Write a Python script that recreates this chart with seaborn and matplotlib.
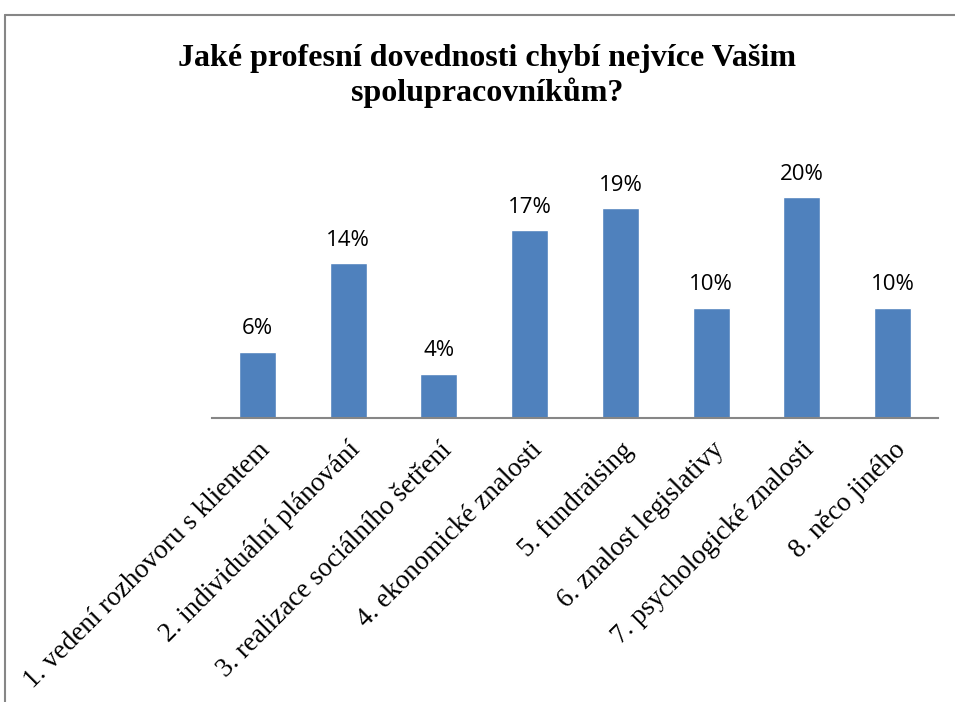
import matplotlib
matplotlib.use("Agg")
import matplotlib.pyplot as plt
import seaborn as sns
import pandas as pd
from matplotlib.lines import Line2D

categories = [
    "1. vedení rozhovoru s klientem",
    "2. individuální plánování",
    "3. realizace sociálního šetření",
    "4. ekonomické znalosti",
    "5. fundraising",
    "6. znalost legislativy",
    "7. psychologické znalosti",
    "8. něco jiného",
]
values = [6, 14, 4, 17, 19, 10, 20, 10]
title = "Jaké profesní dovednosti chybí nejvíce Vašim\nspolupracovníkům?"

sns.set_theme(style="white")
plt.rcParams["font.family"] = ["Liberation Serif", "DejaVu Serif"]

df = pd.DataFrame({"category": categories, "value": values})

fig = plt.figure(figsize=(9.55, 7.02), dpi=100)
ax = fig.add_axes([212 / 955, 1 - 418 / 702, 726 / 955, 243 / 702])

sns.barplot(data=df, x="category", y="value", color="#4F81BD",
            saturation=1, width=0.41, ax=ax)

ax.set_ylim(0, 22)
ax.set_xlim(-0.5, len(categories) - 0.5)
ax.set_xlabel("")
ax.set_ylabel("")
ax.set_yticks([])
for side in ["top", "right", "left"]:
    ax.spines[side].set_visible(False)
ax.spines["bottom"].set_color("#868686")
ax.spines["bottom"].set_linewidth(1.5)
ax.tick_params(axis="x", length=0, pad=14)

ax.set_xticks(range(len(categories)))
ax.set_xticklabels(categories, rotation=45, ha="right", rotation_mode="anchor",
                   fontsize=19.5, family=["Liberation Serif"], color="black")

for i, v in enumerate(values):
    ax.annotate(f"{v}%", (i, v), xytext=(0, 9), textcoords="offset points",
                ha="center", va="bottom", fontsize=16, color="black",
                family=["Open Sans", "DejaVu Sans"])

fig.text(487 / 955, 1 - 76 / 702, title, ha="center", va="center",
         fontsize=23, fontweight="bold", family=["Liberation Serif"],
         color="black", linespacing=1.15)

# chart area border
fig.add_artist(Line2D([5 / 955, 1.0], [1 - 15 / 702] * 2,
                      transform=fig.transFigure, color="#868686", lw=1.5))
fig.add_artist(Line2D([5 / 955] * 2, [0.0, 1 - 15 / 702],
                      transform=fig.transFigure, color="#868686", lw=1.5))

fig.savefig("out.png", dpi=100)
